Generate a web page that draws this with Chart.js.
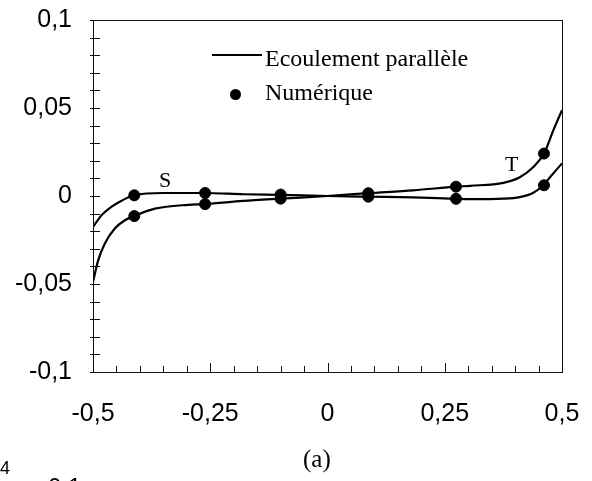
<!DOCTYPE html>
<html>
<head>
<meta charset="utf-8">
<script src="https://cdn.jsdelivr.net/npm/chart.js@4"></script>
<style>
  body { margin: 0; width: 592px; height: 481px; overflow: hidden; position: relative; background: #fff; }
  #chart { position: absolute; left: 0; top: 0; }
  .txt { position: absolute; line-height: 1; white-space: nowrap; color: #000; }
  .serif { font-family: "Liberation Serif", "Times New Roman", serif; }
  .sans { font-family: "Liberation Sans", Arial, sans-serif; }
  .leg-line { position: absolute; left: 212px; top: 54px; width: 50px; height: 2px; background: #000; }
  .leg-dot { position: absolute; left: 230px; top: 89px; width: 11px; height: 11px; border-radius: 50%; background: #000; }
</style>
</head>
<body>
<canvas id="chart" width="592" height="481"></canvas>

<div class="leg-line"></div>
<div class="txt serif" style="left:265px; top:46px; font-size:24px;">Ecoulement parallèle</div>
<div class="leg-dot"></div>
<div class="txt serif" style="left:265px; top:80px; font-size:24px;">Numérique</div>

<div class="txt serif" style="left:159px; top:169px; font-size:22px;">S</div>
<div class="txt serif" style="left:505px; top:153px; font-size:22px;">T</div>
<div class="txt serif" style="left:303px; top:446px; font-size:25px;">(a)</div>

<div class="txt sans" style="left:0px; top:459px; font-size:18px;">4</div>
<div class="txt sans" style="left:48px; top:475px; font-size:24px;">0,1</div>

<script>
// Courbe S (ecoulement parallele)
const curveAx = [-0.5, -0.482, -0.461, -0.44, -0.412, -0.35, -0.297, -0.261, -0.18, -0.1, 0, 0.087, 0.183, 0.274, 0.304, 0.375, 0.41, 0.439, 0.46, 0.478, 0.5];
const curveAy = [-0.0176, -0.011, -0.0062, -0.0028, 0.0004, 0.0017, 0.0017, 0.0017, 0.001, 0.0006, 0, -0.0004, -0.0008, -0.0016, -0.0018, -0.0015, -0.0006, 0.0019, 0.0061, 0.0118, 0.0185];

// Courbe T (ecoulement parallele)
const curveBx = [-0.5, -0.489, -0.475, -0.454, -0.432, -0.412, -0.368, -0.297, -0.261, -0.18, -0.1, 0, 0.087, 0.183, 0.274, 0.304, 0.375, 0.41, 0.439, 0.4616, 0.4815, 0.5];
const curveBy = [-0.0488, -0.0366, -0.0271, -0.0186, -0.0138, -0.0114, -0.0072, -0.005, -0.0046, -0.0028, -0.0015, 0, 0.0016, 0.0032, 0.0053, 0.0058, 0.0075, 0.0107, 0.0165, 0.0241, 0.0373, 0.0488];

// Points numeriques
const pointX = [-0.412, -0.261, -0.1, 0.087, 0.274, 0.4616];
const pointYA = [0.0004, 0.0017, 0.0008, -0.0004, -0.0016, 0.0061];
const pointYB = [-0.0114, -0.0046, -0.0015, 0.0016, 0.0053, 0.0241];

// Etiquettes des axes
const xTickValues = [-0.5, -0.25, 0, 0.25, 0.5];
const xTickLabels = ['-0,5', '-0,25', '0', '0,25', '0,5'];
const yTickValues = [-0.1, -0.05, 0, 0.05, 0.1];
const yTickLabels = ['-0,1', '-0,05', '0', '0,05', '0,1'];

function toPoints(xs, ys) {
    return xs.map((x, i) => ({ x: x, y: ys[i] }));
}

function labelFor(value, values, labels) {
    const i = values.findIndex(v => Math.abs(v - value) < 1e-6);
    return i >= 0 ? labels[i] : '';
}

// Cadre et petites graduations
const framePlugin = {
    id: 'frame',
    afterDraw(chart) {
        const ctx = chart.ctx;
        const a = chart.chartArea;
        const xs = chart.scales.x;
        const ys = chart.scales.y;
        ctx.save();
        ctx.strokeStyle = '#111';
        ctx.lineWidth = 1;
        ctx.strokeRect(Math.round(a.left) + 0.5, Math.round(a.top) + 0.5, Math.round(a.right - a.left), Math.round(a.bottom - a.top));
        ctx.beginPath();
        ys.ticks.forEach(t => {
            const py = Math.round(ys.getPixelForValue(t.value)) + 0.5;
            ctx.moveTo(a.left - 3, py);
            ctx.lineTo(a.left + 7, py);
        });
        xs.ticks.forEach(t => {
            const px = Math.round(xs.getPixelForValue(t.value)) + 0.5;
            const major = labelFor(t.value, xTickValues, xTickLabels) !== '';
            ctx.moveTo(px, a.bottom);
            ctx.lineTo(px, a.bottom - (major ? 9 : 6));
        });
        ctx.stroke();
        ctx.restore();
    }
};

const tickFont = { family: '"Liberation Sans", Arial, sans-serif', size: 25 };

new Chart(document.getElementById('chart'), {
    type: 'line',
    data: {
        datasets: [
            {
                label: 'Ecoulement parallèle',
                data: toPoints(curveAx, curveAy),
                borderColor: '#000',
                borderWidth: 2.2,
                pointRadius: 0,
                cubicInterpolationMode: 'monotone',
                fill: false
            },
            {
                label: 'Ecoulement parallèle (T)',
                data: toPoints(curveBx, curveBy),
                borderColor: '#000',
                borderWidth: 2.2,
                pointRadius: 0,
                cubicInterpolationMode: 'monotone',
                fill: false
            },
            {
                type: 'scatter',
                label: 'Numérique',
                data: toPoints(pointX, pointYA).concat(toPoints(pointX, pointYB)),
                backgroundColor: '#000',
                borderColor: '#000',
                pointRadius: 5.5,
                showLine: false
            }
        ]
    },
    options: {
        responsive: false,
        animation: false,
        layout: { padding: { left: 0, right: 30, top: 20, bottom: 49 } },
        plugins: {
            legend: { display: false },
            tooltip: { enabled: false }
        },
        scales: {
            x: {
                type: 'linear',
                min: -0.5,
                max: 0.5,
                grid: { display: false },
                border: { display: false },
                ticks: {
                    stepSize: 0.05,
                    autoSkip: false,
                    maxRotation: 0,
                    padding: 19,
                    color: '#000',
                    font: tickFont,
                    callback: v => labelFor(v, xTickValues, xTickLabels)
                },
                afterFit: scale => {
                    scale.height = 60;
                    scale.paddingLeft = 0;
                    scale.paddingRight = 0;
                }
            },
            y: {
                min: -0.1,
                max: 0.1,
                grid: { display: false },
                border: { display: false },
                ticks: {
                    stepSize: 0.01,
                    autoSkip: false,
                    padding: 13,
                    color: '#000',
                    font: tickFont,
                    callback: v => labelFor(v, yTickValues, yTickLabels)
                },
                afterFit: scale => {
                    scale.width = 93;
                    scale.paddingTop = 0;
                    scale.paddingBottom = 0;
                }
            }
        }
    },
    plugins: [framePlugin]
});
</script>
</body>
</html>
